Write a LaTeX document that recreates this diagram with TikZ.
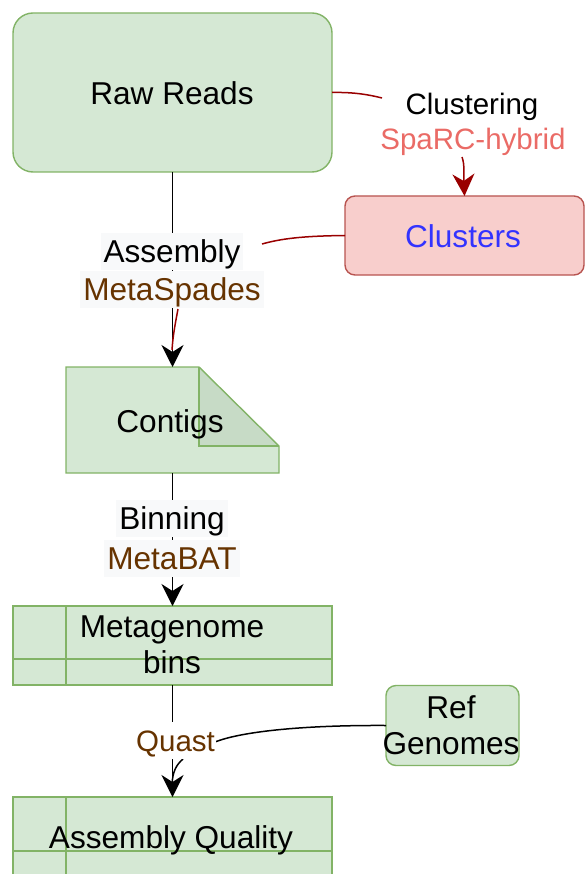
\documentclass[tikz,border=0pt]{standalone}
\usepackage{fontspec}
\setmainfont{Liberation Sans}
\usetikzlibrary{arrows.meta}
\definecolor{gfill}{HTML}{D5E8D4}
\definecolor{gline}{HTML}{82B366}
\definecolor{rfill}{HTML}{F8CECC}
\definecolor{rline}{HTML}{B85450}
\definecolor{dred}{HTML}{990000}
\definecolor{salmon}{HTML}{EA6B66}
\definecolor{cblue}{HTML}{3333FF}
\definecolor{tbrown}{HTML}{663300}
\definecolor{lbg}{HTML}{F8F9FA}
\definecolor{foldc}{HTML}{C7DBC6}
\begin{document}
\begin{tikzpicture}[x=1pt,y=-1pt,
  gbox/.style={draw=gline, fill=gfill, line width=1.4pt, inner sep=0, outer sep=0},
  rbox/.style={draw=rline, fill=rfill, line width=1.4pt, inner sep=0, outer sep=0},
  txt/.style={anchor=base, font=\fontsize{31.6}{36}\selectfont, inner sep=0},
  stxt/.style={anchor=base, font=\fontsize{29.5}{34}\selectfont, inner sep=0},
  lab/.style={txt, fill=lbg, inner xsep=3pt, inner ysep=0pt, text height=29pt, text depth=8pt},
  wlab/.style={stxt, fill=white, inner xsep=1pt, inner ysep=0pt, text height=29pt, text depth=8pt},
  tip/.style={-{Stealth[length=22pt,width=22pt,inset=7pt]}},
  eline/.style={draw=black, line width=1.5pt},
  redline/.style={draw=dred, line width=1.5pt},
]
\clip (0,0) rectangle (586,874);
% boxes
\node[gbox, rounded corners=20pt, minimum width=319pt, minimum height=159pt] (raw) at (172.5,92.5) {};
\node[rbox, rounded corners=10pt, minimum width=239pt, minimum height=79pt] (clusters) at (464.5,235.5) {};
\node[minimum width=213pt, minimum height=106pt, inner sep=0, outer sep=0] (contigs) at (172.5,420) {};
\fill[gfill] (contigs.north west) -- (199,367) -- (contigs.north east |- 0,446) -- (contigs.south east) -- (contigs.south west) -- cycle;
\fill[foldc] (199,367) -- (contigs.north east |- 0,446) -- (199,446) -- cycle;
\draw[gline, line width=1.4pt, line join=miter] (contigs.north west) -- (199,367) -- (contigs.north east |- 0,446) -- (contigs.south east) -- (contigs.south west) -- cycle;
\draw[gline, line width=1.4pt] (199,367) -- (199,446) -- (contigs.north east |- 0,446);
\node[gbox, minimum width=319pt, minimum height=79pt] (bins) at (172.5,645.5) {};
\draw[gline, line width=1.4pt] (66,606) -- (66,685) (13,659) -- (332,659);
\node[gbox, rounded corners=10pt, minimum width=133pt, minimum height=80pt] (ref) at (452.5,725.5) {};
\node[gbox, minimum width=319pt, minimum height=130pt] (aq) at (172.5,862) {};
\draw[gline, line width=1.4pt] (66,797) -- (66,927) (13,851) -- (332,851);
% box texts
\node[txt] (tRaw) at (172,105) {Raw Reads};
\node[txt, text=cblue] (tClusters) at (463,248) {Clusters};
\node[txt] (tContigs) at (170,432) {Contigs};
\node[txt] (tMeta) at (172,637) {Metagenome};
\node[txt] (tBins) at (172,673) {bins};
\node[txt] (tRef) at (451,718) {Ref};
\node[txt] (tGen) at (451,754) {Genomes};
\node[txt] (tAQ) at (171,848) {Assembly Quality};
% connector end points
\coordinate (c1) at (382,98);
\coordinate (c2) at (462,157);
\coordinate (c3) at (262,244);
\coordinate (c4) at (178,309);
\coordinate (c5) at (172,350);
\coordinate (q1) at (215,742);
\coordinate (q2) at (183,759);
\coordinate (q3) at (172,785);
% connectors
\draw[eline, tip] (raw.south) -- (contigs.north);
\draw[eline, tip] (contigs.south) -- (bins.north);
\draw[eline, tip] (bins.south) -- (aq.north);
\draw[redline] (raw.east) .. controls (355,92) and (370,95) .. (c1);
\draw[redline, -{Stealth[length=22pt,width=22pt,inset=7pt]}] (c2) .. controls (465,165) and (463.5,175) .. (clusters.north);
\draw[redline] (clusters.west) .. controls (300,236) and (280,239) .. (c3);
\draw[redline] (c4) .. controls (175,325) and (173,335) .. (c5);
\draw[eline] (ref.west) .. controls (300,725) and (240,732) .. (q1);
\draw[eline] (q2) .. controls (176,765) and (172.5,772) .. (q3);
% labels
\node[stxt] (lClust) at (472,115) {Clustering};
\node[stxt, text=salmon] (lSparc) at (473,150) {SpaRC-hybrid};
\node[lab] (lAsm) at (172,262) {Assembly};
\node[lab, text=tbrown] (lSpades) at (172,300) {MetaSpades};
\node[lab] (lBin) at (172,529) {Binning};
\node[lab, text=tbrown] (lBat) at (172,569) {MetaBAT};
\node[wlab, text=tbrown] (lQuast) at (175.5,751) {Quast};
\end{tikzpicture}
\end{document}
